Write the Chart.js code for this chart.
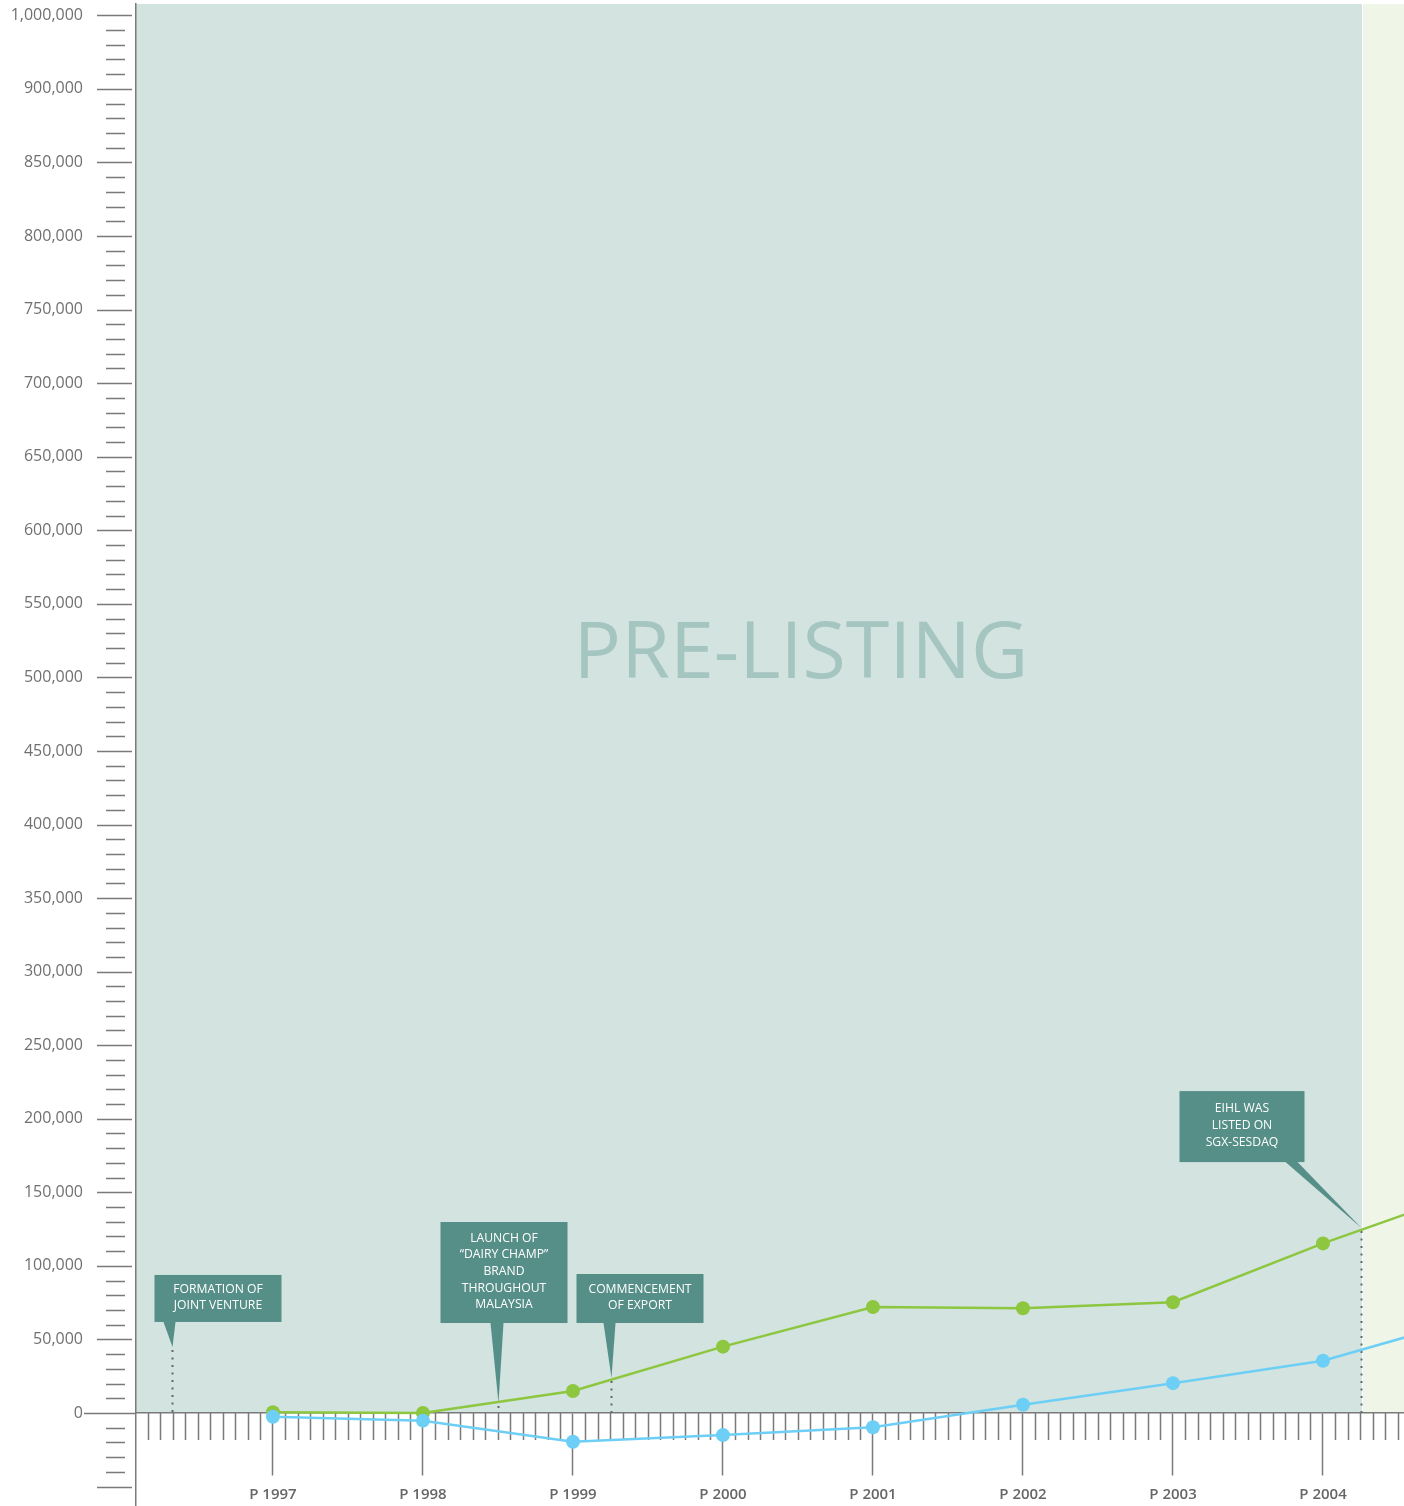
<!DOCTYPE html>
<html>
<head>
<meta charset="utf-8">
<script src="https://cdn.jsdelivr.net/npm/chart.js@4"></script>
<style>
  html, body { margin: 0; padding: 0; background: #fff; overflow: hidden; }
  canvas { display: block; }
</style>
</head>
<body>
<canvas id="chart" width="1404" height="1506"></canvas>
<script>
// years on the time axis (2005 only continues the line past the right edge)
const years = [1997, 1998, 1999, 2000, 2001, 2002, 2003, 2004, 2005];
const yearLabels = ['P 1997', 'P 1998', 'P 1999', 'P 2000', 'P 2001', 'P 2002', 'P 2003', 'P 2004'];

// green line and blue line
const greenValues = [500, 0, 15000, 45100, 72100, 71200, 75300, 115300, 151300];
const blueValues = [-2500, -5200, -19500, -15000, -9700, 5600, 20300, 35500, 64700];

// y axis labels (the top one is printed as 1,000,000 in the original)
const yTickValues = [0, 50000, 100000, 150000, 200000, 250000, 300000, 350000, 400000, 450000,
  500000, 550000, 600000, 650000, 700000, 750000, 800000, 850000, 900000, 950000];
const yTickLabels = ['0', '50,000', '100,000', '150,000', '200,000', '250,000', '300,000', '350,000',
  '400,000', '450,000', '500,000', '550,000', '600,000', '650,000', '700,000', '750,000', '800,000',
  '850,000', '900,000', '1,000,000'];

// milestones
const callouts = [
  { x: 1996.327, tip: 44900, lines: ['FORMATION OF', 'JOINT VENTURE'], dx: -18, gap: 25, w: 127, h: 47, base: [-9, 3] },
  { x: 1998.5, tip: 6800, lines: ['LAUNCH OF', '\u201CDAIRY CHAMP\u201D', 'BRAND', 'THROUGHOUT', 'MALAYSIA'], dx: -58, gap: 80, w: 127, h: 101, base: [-8, 5] },
  { x: 1999.253, tip: 23800, lines: ['COMMENCEMENT', 'OF EXPORT'], dx: -35, gap: 55, w: 127, h: 49, base: [-8, 4] },
  { x: 2004.253, tip: 125700, lines: ['EIHL WAS', 'LISTED ON', 'SGX-SESDAQ'], dx: -182, gap: 66, w: 125, h: 71, base: [-76, -64] }
];
const listingBoundary = 2004.26;

const FONT = '"Open Sans", "Noto Sans", sans-serif';

const decorPlugin = {
  id: 'decor',
  beforeDraw(chart) {
    const { ctx, chartArea: area, scales: { x, y } } = chart;
    const y0 = y.getPixelForValue(0);
    const xb = x.getPixelForValue(listingBoundary);
    ctx.save();
    ctx.fillStyle = '#d3e3df';
    ctx.fillRect(area.left, area.top, xb - area.left, y0 - area.top);
    ctx.fillStyle = '#eff5e7';
    ctx.fillRect(xb, area.top, area.right - xb, y0 - area.top);
    ctx.fillStyle = '#ffffff';
    ctx.fillRect(xb, area.top, 1, y0 - area.top);

    // big section title
    ctx.fillStyle = '#a5c5c1';
    ctx.font = '79px ' + FONT;
    ctx.textAlign = 'center';
    ctx.textBaseline = 'middle';
    ctx.fillText('PRE-LISTING', x.getPixelForValue(2000.52), y.getPixelForValue(515000));
    ctx.restore();
  },
  beforeDatasetsDraw(chart) {
    const { ctx, chartArea: area, scales: { x, y } } = chart;
    const y0 = y.getPixelForValue(0);
    const ax = area.left;
    ctx.save();
    ctx.strokeStyle = '#7a7a7a';
    ctx.lineWidth = 1.5;

    // y ticks every 10,000, longer every 50,000
    ctx.beginPath();
    for (let v = -50000; v <= 950000; v += 10000) {
      const py = Math.round(y.getPixelForValue(v)) + 0.5;
      if (v === 0) {
        ctx.moveTo(84, py); ctx.lineTo(ax, py);
      } else if (v % 50000 === 0) {
        ctx.moveTo(ax - 39, py); ctx.lineTo(ax - 4, py);
      } else {
        ctx.moveTo(ax - 30, py); ctx.lineTo(ax - 11, py);
      }
    }
    ctx.stroke();

    // monthly ticks under the time axis
    ctx.beginPath();
    const m0 = Math.ceil(x.min * 12), m1 = Math.floor(x.max * 12);
    for (let m = m0; m <= m1; m++) {
      if (m % 12 === 0) continue;
      const px = Math.round(x.getPixelForValue(m / 12)) + 0.5;
      ctx.moveTo(px, y0); ctx.lineTo(px, y0 + 27);
    }
    ctx.stroke();

    // milestone callouts
    callouts.forEach(c => {
      const px = Math.round(x.getPixelForValue(c.x)) + 0.5;
      const tipY = y.getPixelForValue(c.tip);
      const bottom = tipY - c.gap;
      const left = px + c.dx;

      ctx.save();
      ctx.strokeStyle = '#5f6b68';
      ctx.lineWidth = 2;
      ctx.setLineDash([2, 5.5]);
      ctx.beginPath();
      ctx.moveTo(px, tipY + 3);
      ctx.lineTo(px, y0);
      ctx.stroke();
      ctx.restore();

      ctx.fillStyle = '#558f88';
      ctx.fillRect(left, bottom - c.h, c.w, c.h);
      ctx.beginPath();
      ctx.moveTo(px + c.base[0], bottom);
      ctx.lineTo(px + c.base[1], bottom);
      ctx.lineTo(px, tipY);
      ctx.closePath();
      ctx.fill();

      ctx.fillStyle = '#ffffff';
      ctx.font = '500 12.2px ' + FONT;
      ctx.textAlign = 'center';
      ctx.textBaseline = 'middle';
      const lh = 16.6;
      const cy = bottom - c.h / 2 - 1;
      c.lines.forEach((t, i) => {
        ctx.fillText(t, left + c.w / 2, cy + (i - (c.lines.length - 1) / 2) * lh);
      });
    });
    ctx.restore();
  }
};

new Chart(document.getElementById('chart'), {
  type: 'line',
  data: {
    datasets: [
      {
        data: years.map((yr, i) => ({ x: yr, y: blueValues[i] })),
        borderColor: '#6dcff6',
        backgroundColor: '#6dcff6',
        borderWidth: 2.5,
        pointRadius: 7,
        pointBorderWidth: 0,
        order: 0
      },
      {
        data: years.map((yr, i) => ({ x: yr, y: greenValues[i] })),
        borderColor: '#8dc63f',
        backgroundColor: '#8dc63f',
        borderWidth: 2.5,
        pointRadius: 7,
        pointBorderWidth: 0,
        order: 1
      }
    ]
  },
  options: {
    responsive: false,
    animation: false,
    devicePixelRatio: 1,
    layout: { autoPadding: false, padding: { top: 4, left: 0, right: 0, bottom: 0 } },
    plugins: { legend: { display: false }, tooltip: { enabled: false } },
    scales: {
      x: {
        type: 'linear',
        min: 1996.087,
        max: 2004.54,
        position: { y: 0 },
        afterBuildTicks: s => { s.ticks = yearLabels.map((_, i) => ({ value: years[i] })); },
        afterFit: s => { s.paddingLeft = 0; s.paddingRight = 0; },
        ticks: {
          autoSkip: false,
          maxRotation: 0,
          padding: 11,
          color: '#666',
          font: { family: FONT, size: 15, weight: '600' },
          callback: (v, i) => yearLabels[i]
        },
        grid: { drawOnChartArea: false, drawTicks: true, tickLength: 62, tickColor: '#7a7a7a', tickWidth: 1.5 },
        border: { display: true, color: '#7a7a7a', width: 1.5 }
      },
      y: {
        min: -63200,
        max: 957700,
        afterBuildTicks: s => { s.ticks = yTickValues.map(v => ({ value: v })); },
        afterFit: s => { s.width = 136; s.paddingTop = 0; s.paddingBottom = 0; },
        ticks: {
          padding: 53,
          color: '#707070',
          font: { family: FONT, size: 16 },
          callback: (v, i) => yTickLabels[i]
        },
        grid: { display: false, drawTicks: false },
        border: { display: true, color: '#7a7a7a', width: 1.5 }
      }
    }
  },
  plugins: [decorPlugin]
});
</script>
</body>
</html>
